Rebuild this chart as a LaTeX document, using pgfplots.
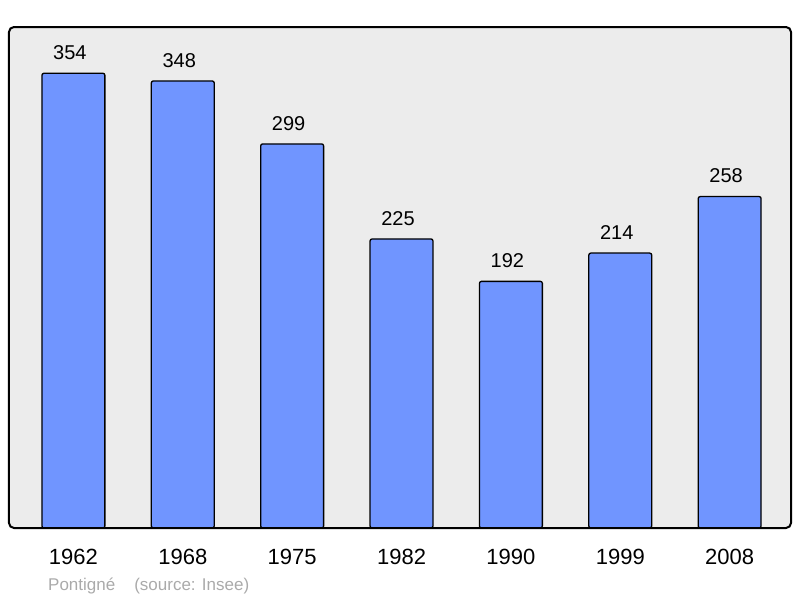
\documentclass[border=0pt]{standalone}
\usepackage{fontspec}
\setmainfont{Liberation Sans}
\usepackage{pgfplots}
\pgfplotsset{compat=1.18}
\definecolor{barblue}{RGB}{112,149,255}
\definecolor{bg}{RGB}{236,236,236}
\definecolor{foot}{RGB}{170,170,170}
\begin{document}
\begin{tikzpicture}
\path[use as bounding box] (-9pt,-70pt) rectangle (791pt,528pt);
\begin{axis}[
 name=ax, at={(0,0)}, anchor=south west,
 scale only axis, width=782pt, height=501pt,
 xmin=-0.589, xmax=6.561, ymin=0, ymax=390,
 axis line style={draw=none},
 axis background/.style={fill=bg, rounded corners=5pt},
 ytick=\empty,
 xtick={0,...,6},
 xticklabels={1962,1968,1975,1982,1990,1999,2008},
 major tick length=0pt,
 xticklabel style={anchor=base, yshift=-36pt, font=\fontsize{22}{26}\selectfont},
 ybar, bar width=0.575, bar shift=0pt,
 nodes near coords,
 /pgf/number format/assume math mode=true,
 every node near coord/.append style={anchor=base, xshift=-3.5pt, yshift=13.7pt, inner sep=0pt, font=\fontsize{20}{24}\selectfont, text=black},
]
\addplot[fill=barblue, draw=black, line width=1.3pt, rounded corners=2pt] coordinates {(0,354) (1,348) (2,299) (3,225) (4,192) (5,214) (6,258)};
\end{axis}
\draw[line width=2pt, rounded corners=5pt] (ax.south west) rectangle (ax.north east);
\node[anchor=base west, inner sep=0pt, text=foot, font=\fontsize{17}{20}\selectfont] at ([xshift=39pt,yshift=-62pt]ax.south west) {Pontigné\hspace{19pt}(source: Insee)};
\end{tikzpicture}
\end{document}
